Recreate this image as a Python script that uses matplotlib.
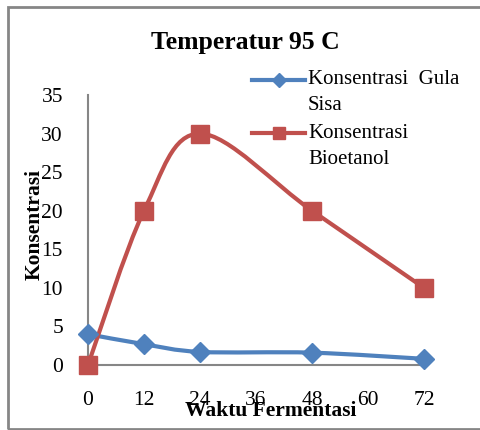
import numpy as np
import matplotlib.pyplot as plt
from matplotlib.path import Path
from matplotlib.patches import PathPatch, Rectangle
from matplotlib.lines import Line2D

# Data
waktu = [0, 12, 24, 48, 72]
gula_sisa = [4.0, 2.7, 1.7, 1.6, 0.8]
bioetanol = [0, 20, 30, 20, 10]
x_ticks = [0, 12, 24, 36, 48, 60, 72]
y_ticks = [0, 5, 10, 15, 20, 25, 30, 35]

BLUE = '#4F81BD'
RED = '#C0504D'
GRAY = '#868686'

plt.rcParams['font.family'] = ['Liberation Serif', 'DejaVu Serif']

W, H = 480, 430


# Smoothed line like the spreadsheet "smooth line" option (cubic Bezier through points)
def smooth_path(xs, ys):
    pts = np.column_stack([xs, ys]).astype(float)
    n = len(pts)
    verts = [pts[0]]
    codes = [Path.MOVETO]
    for i in range(n - 1):
        p0 = pts[i - 1] if i > 0 else pts[i]
        p1 = pts[i]
        p2 = pts[i + 1]
        p3 = pts[i + 2] if i + 2 < n else pts[i + 1]
        c1 = p1 + (p2 - p0) / 6.0
        c2 = p2 - (p3 - p1) / 6.0
        verts += [c1, c2, p2]
        codes += [Path.CURVE4] * 3
    return Path(verts, codes)


fig = plt.figure(figsize=(4.8, 4.3), dpi=100)

# outer chart border
fig.add_artist(Rectangle((8 / W, 1 - 429 / H), 2, (429 - 7) / H, transform=fig.transFigure,
                         fill=False, edgecolor=GRAY, linewidth=2))

ax = fig.add_axes([88 / W, 1 - 365 / H, 336 / W, 270 / H])
ax.set_xlim(0, 72)
ax.set_ylim(0, 35)
for s in ['top', 'right']:
    ax.spines[s].set_visible(False)
for s in ['left', 'bottom']:
    ax.spines[s].set_color(GRAY)
    ax.spines[s].set_linewidth(1.5)
ax.set_xticks(x_ticks)
ax.set_yticks(y_ticks)
ax.tick_params(length=0, labelsize=15.5)
ax.tick_params(axis='x', pad=19)
ax.tick_params(axis='y', pad=18)

ax.add_patch(PathPatch(smooth_path(waktu, gula_sisa), fill=False, edgecolor=BLUE,
                       linewidth=3, clip_on=False, zorder=3, capstyle='round'))
ax.add_patch(PathPatch(smooth_path(waktu, bioetanol), fill=False, edgecolor=RED,
                       linewidth=3, clip_on=False, zorder=3, capstyle='round'))
ax.plot(waktu, gula_sisa, linestyle='none', marker='D', markersize=10,
        color=BLUE, clip_on=False, zorder=4)
ax.plot(waktu, bioetanol, linestyle='none', marker='s', markersize=13,
        color=RED, clip_on=False, zorder=5)

fig.text(245 / W, 1 - 43 / H, 'Temperatur 95 C', ha='center', va='center',
         fontsize=18.5, fontweight='bold')
fig.text(35 / W, 1 - 224 / H, 'Konsentrasi', ha='center', va='center',
         rotation=90, fontsize=15.5, fontweight='bold')
fig.text(271 / W, 1 - 411 / H, 'Waktu Fermentasi', ha='center', va='center',
         fontsize=15.5, fontweight='bold')

# legend
fig.add_artist(Line2D([252 / W, 305 / W], [1 - 80 / H] * 2, color=BLUE, linewidth=3,
                      transform=fig.transFigure))
fig.add_artist(Line2D([278.5 / W], [1 - 80 / H], marker='D', markersize=7, color=BLUE,
                      transform=fig.transFigure))
fig.add_artist(Line2D([252 / W, 305 / W], [1 - 133 / H] * 2, color=RED, linewidth=3,
                      transform=fig.transFigure))
fig.add_artist(Line2D([278.5 / W], [1 - 133 / H], marker='s', markersize=8, color=RED,
                      transform=fig.transFigure))
fig.text(308 / W, 1 - 80 / H, 'Konsentrasi  Gula', ha='left', va='center', fontsize=15)
fig.text(308 / W, 1 - 105 / H, 'Sisa', ha='left', va='center', fontsize=15)
fig.text(308 / W, 1 - 133 / H, 'Konsentrasi', ha='left', va='center', fontsize=15)
fig.text(308 / W, 1 - 159 / H, 'Bioetanol', ha='left', va='center', fontsize=15)

fig.savefig('out.png', dpi=100)
